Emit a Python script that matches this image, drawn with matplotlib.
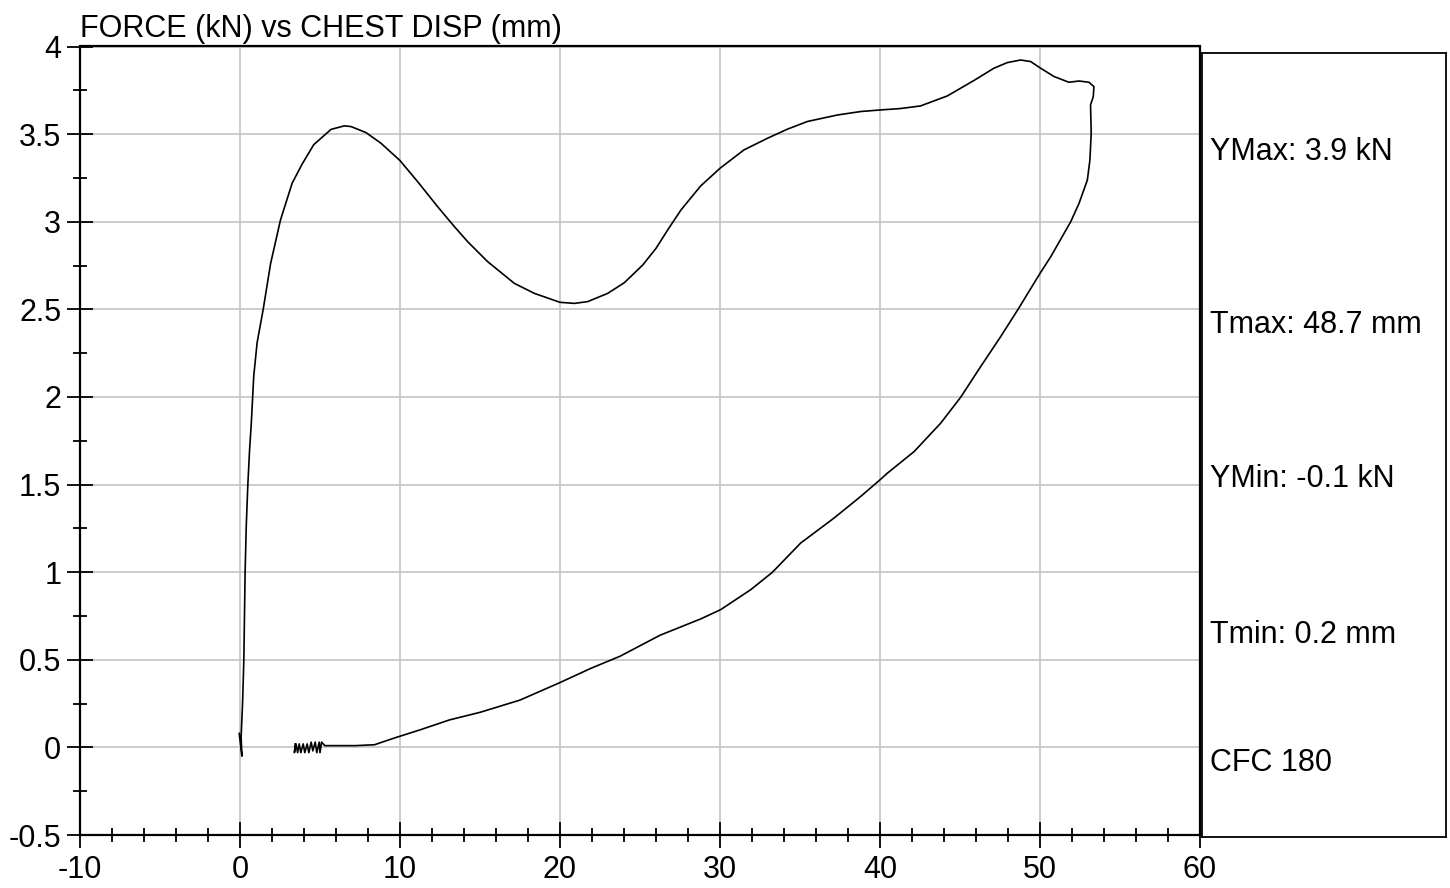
import numpy as np
import matplotlib.pyplot as plt
from matplotlib.ticker import MultipleLocator

plt.rcParams['font.family'] = ['Liberation Sans', 'DejaVu Sans']
plt.rcParams['axes.unicode_minus'] = False

# chest displacement (mm) and force (kN)
disp = [-0.05, 0.12, 0.07, 0.16, 0.24, 0.32, 0.39, 0.49, 0.60, 0.70,
        0.86, 1.07, 1.45, 1.91, 2.53, 3.26, 3.89, 4.61, 5.69, 6.52,
        6.94, 7.87, 8.81, 10.0, 11.1, 12.35, 13.4, 14.23, 15.48, 17.15,
        18.4, 20.0, 20.9, 21.73, 22.98, 24.02, 25.17, 26.0, 26.73, 27.56,
        28.79, 30.0, 31.5, 32.96, 34.21, 35.46, 37.33, 38.8, 40.04, 41.29,
        42.54, 44.21, 45.87, 47.12, 47.95, 48.79, 49.42, 50.04, 50.87, 51.8,
        52.44, 53.06, 53.37, 53.33, 53.16, 53.2, 53.12, 52.96, 52.44, 51.92,
        50.67, 50.0, 48.6, 47.54, 46.29, 45.04, 43.79, 42.13, 40.46, 40.0,
        38.79, 37.13, 35.04, 33.27, 31.92, 30.04, 28.79, 26.25, 23.75, 21.9,
        20.0, 17.5, 15.0, 13.1, 11.25, 9.7, 8.4, 7.2, 5.3,
        5.1, 5.0, 4.95, 4.8, 4.7, 4.55, 4.45, 4.3, 4.2, 4.05,
        3.95, 3.8, 3.7, 3.6, 3.5, 3.4, 3.45]
force = [0.08, -0.05, 0.06, 0.25, 0.50, 1.00, 1.26, 1.50, 1.70, 1.84,
         2.12, 2.31, 2.50, 2.76, 3.01, 3.22, 3.33, 3.44, 3.527, 3.547,
         3.543, 3.509, 3.448, 3.349, 3.229, 3.086, 2.972, 2.886, 2.772, 2.648,
         2.591, 2.540, 2.534, 2.544, 2.591, 2.652, 2.753, 2.848, 2.953, 3.067,
         3.204, 3.305, 3.410, 3.476, 3.528, 3.572, 3.609, 3.629, 3.638, 3.646,
         3.661, 3.718, 3.806, 3.876, 3.908, 3.923, 3.914, 3.876, 3.829, 3.796,
         3.803, 3.796, 3.771, 3.714, 3.667, 3.505, 3.353, 3.238, 3.105, 3.0,
         2.80, 2.705, 2.496, 2.344, 2.173, 1.998, 1.850, 1.688, 1.565, 1.527,
         1.432, 1.309, 1.166, 0.999, 0.90, 0.786, 0.733, 0.64, 0.52, 0.45,
         0.37, 0.27, 0.20, 0.157, 0.10, 0.055, 0.015, 0.01, 0.01,
         0.03, -0.03, 0.03, -0.03, 0.03, -0.02, 0.03, -0.03, 0.02, -0.03,
         0.02, -0.03, 0.02, -0.03, 0.02, -0.03, 0.02]

title = "FORCE (kN) vs CHEST DISP (mm)"
stats = ["YMax: 3.9 kN", "Tmax: 48.7 mm", "YMin: -0.1 kN", "Tmin: 0.2 mm", "CFC 180"]
stats_y = [152, 325, 479, 635, 763]   # pixel rows of the labels

W, H = 1450, 888
fig = plt.figure(figsize=(W/100, H/100), dpi=100)
ax = fig.add_axes([80/W, 1 - 835/H, 1120/W, (835 - 46.5)/H])

ax.plot(disp, force, color='black', lw=1.2)

ax.set_xlim(-10, 60)
ax.set_ylim(-0.5, 4)
ax.xaxis.set_major_locator(MultipleLocator(10))
ax.xaxis.set_minor_locator(MultipleLocator(2))
ax.yaxis.set_major_locator(MultipleLocator(0.5))
ax.yaxis.set_minor_locator(MultipleLocator(0.25))
fmt = plt.FuncFormatter(lambda v, p: f"{v:g}")
ax.xaxis.set_major_formatter(fmt)
ax.yaxis.set_major_formatter(fmt)
ax.grid(True, which='major', color='#c4c4c4', lw=1.2)
ax.set_axisbelow(True)
ax.tick_params(which='major', direction='inout', length=19, width=1.3,
               labelsize=22)
ax.tick_params(axis='x', which='major', pad=5)
ax.tick_params(axis='y', which='major', pad=4)
ax.tick_params(which='minor', direction='inout', length=10, width=1.3)
for s in ax.spines.values():
    s.set_linewidth(1.6)
ax.set_title(title, loc='left', fontsize=22, pad=7)

# side panel with the summary values
side = fig.add_axes([1202/W, 1 - 837/H, 244/W, (837 - 53)/H])
side.set_xticks([])
side.set_yticks([])
for s in side.spines.values():
    s.set_linewidth(1.3)
for txt, yp in zip(stats, stats_y):
    fig.text(1210/W, 1 - yp/H, txt, fontsize=22, va='center', ha='left')

fig.savefig("out.png", dpi=100)
